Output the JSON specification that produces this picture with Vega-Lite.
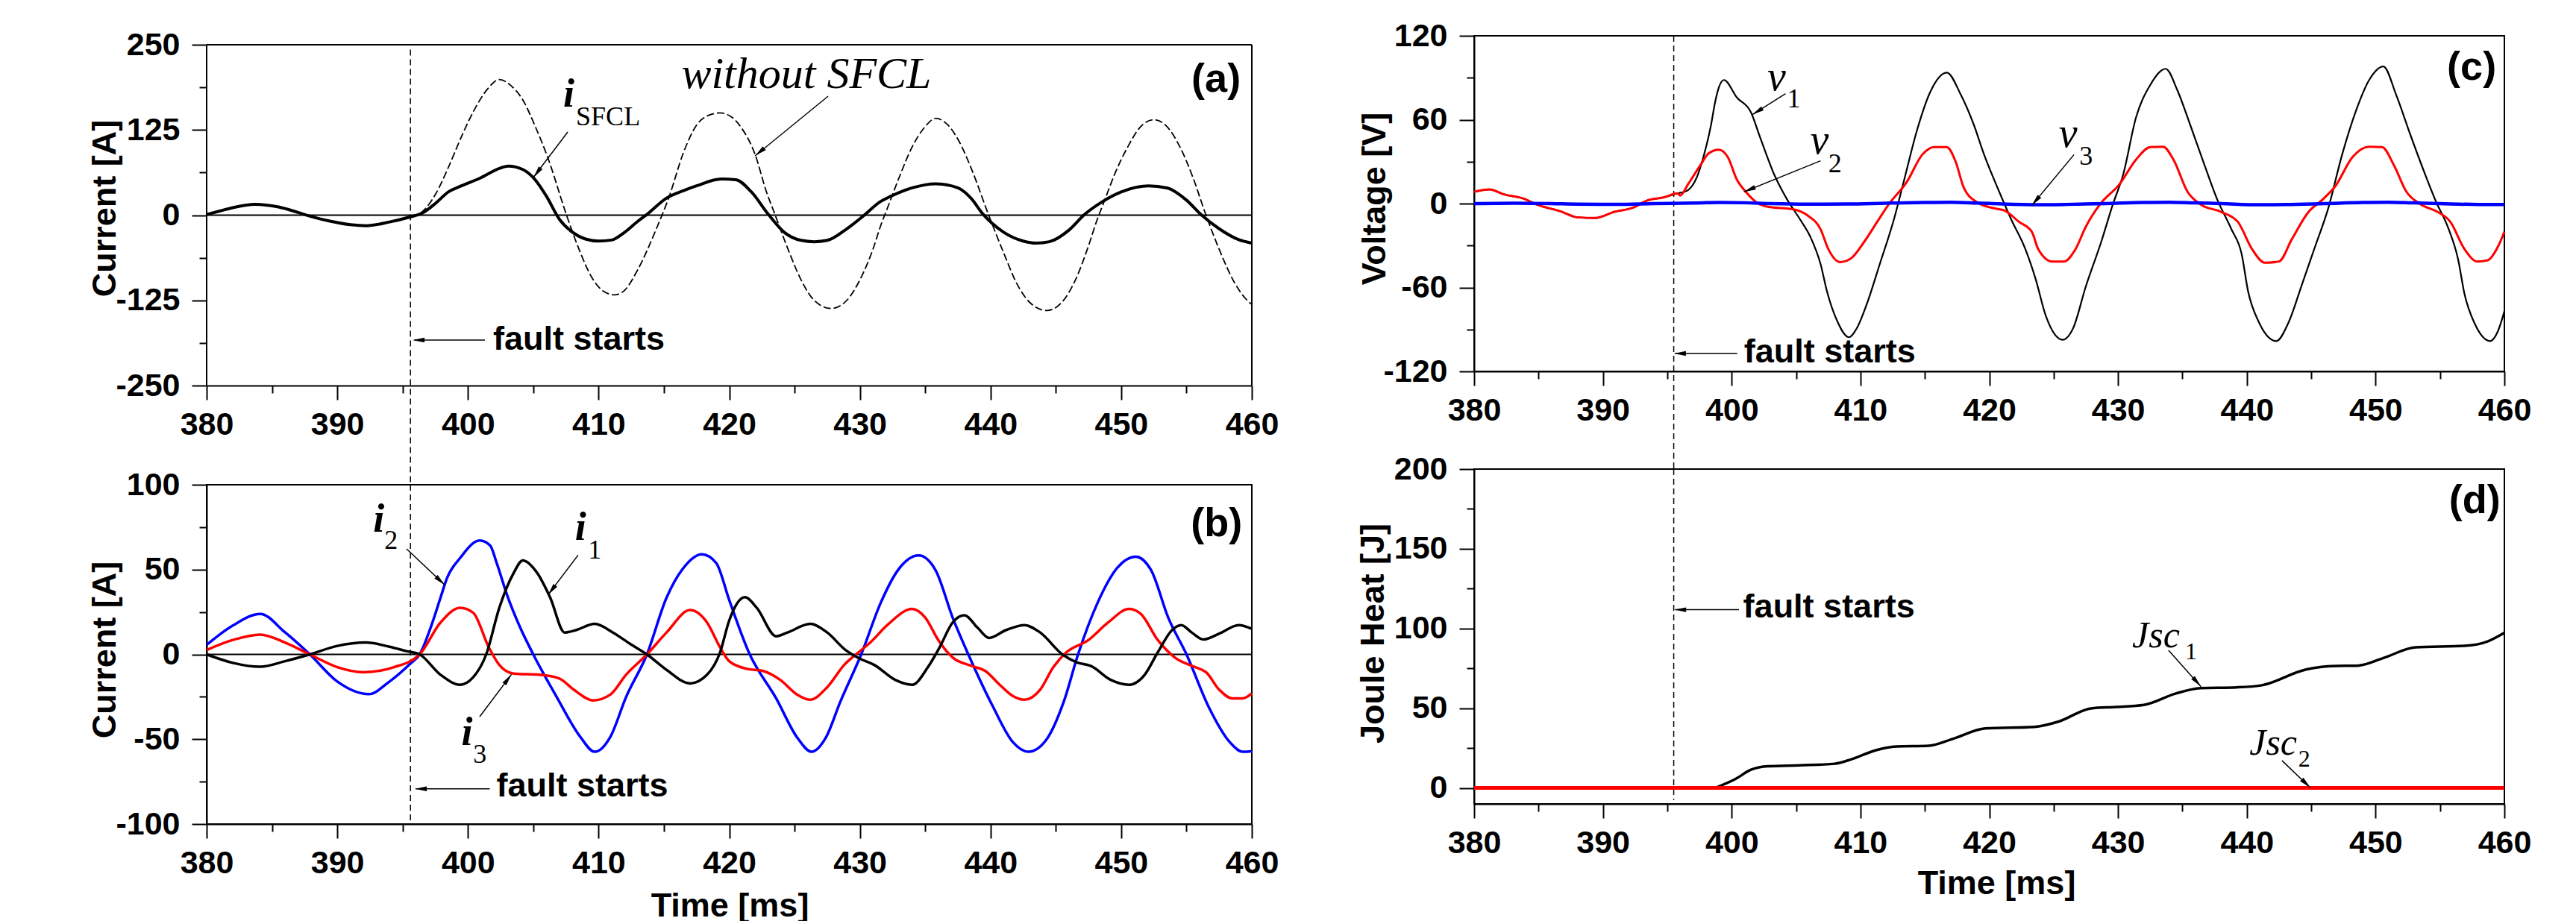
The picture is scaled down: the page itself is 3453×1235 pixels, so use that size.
{
"$schema":"https://vega.github.io/schema/vega-lite/v6.json",
"background":"white",
"padding":{"left":117,"top":26,"right":5,"bottom":0},
"config":{
 "font":"Liberation Sans",
 "view":{"stroke":"black","strokeWidth":2},
 "axis":{"domainColor":"black","domainWidth":2,"tickColor":"black","tickWidth":2,"grid":false,
  "labelFont":"Liberation Sans","labelFontWeight":"bold","labelFontSize":43,"labelColor":"black",
  "titleFont":"Liberation Sans","titleFontWeight":"bold","titleFontSize":45,"titleColor":"black",
  "labelFlush":false,"labelOverlap":false,"labelBound":false}
},
"datasets":{
 "a_sfcl":[{"t":380,"v":1},{"t":381,"v":6},{"t":382,"v":11},{"t":383.7,"v":16},{"t":385.5,"v":12},{"t":387,"v":4},{"t":388,"v":-2},{"t":389.5,"v":-9},{"t":391,"v":-14},{"t":392.2,"v":-15.5},{"t":394,"v":-10},{"t":395.5,"v":-3},{"t":396.5,"v":3},{"t":397.5,"v":17},{"t":398.5,"v":34},{"t":399.5,"v":43},{"t":401,"v":55},{"t":402.2,"v":67},{"t":403.1,"v":72},{"t":404.2,"v":67},{"t":405,"v":55},{"t":406,"v":28},{"t":407,"v":-6},{"t":408,"v":-25},{"t":409,"v":-35},{"t":410,"v":-38},{"t":411,"v":-36.5},{"t":412,"v":-25},{"t":413,"v":-9},{"t":413.7,"v":1},{"t":415.2,"v":25},{"t":416.5,"v":36},{"t":417.5,"v":43},{"t":419.4,"v":53},{"t":420.5,"v":52},{"t":421.7,"v":34},{"t":423,"v":1},{"t":424.2,"v":-25},{"t":425.5,"v":-37},{"t":426.5,"v":-39},{"t":427.5,"v":-37},{"t":429,"v":-20},{"t":430.4,"v":1},{"t":431.5,"v":19},{"t":432.4,"v":28},{"t":434,"v":40},{"t":435.8,"v":46},{"t":437.5,"v":40},{"t":438.5,"v":25},{"t":439.4,"v":2},{"t":441,"v":-25},{"t":442.5,"v":-38},{"t":443.5,"v":-41},{"t":444.5,"v":-39},{"t":446,"v":-22},{"t":447.2,"v":1},{"t":448.5,"v":19},{"t":450,"v":34},{"t":452.1,"v":43},{"t":453.5,"v":40},{"t":455,"v":22},{"t":456.1,"v":1},{"t":457.5,"v":-20},{"t":459,"v":-36},{"t":460,"v":-41}],
 "a_wo":[{"t":380,"v":1},{"t":381,"v":6},{"t":382,"v":11},{"t":383.7,"v":16},{"t":385.5,"v":12},{"t":387,"v":4},{"t":388,"v":-2},{"t":389.5,"v":-9},{"t":391,"v":-14},{"t":392.2,"v":-15.5},{"t":394,"v":-10},{"t":395.5,"v":-3},{"t":396.5,"v":5},{"t":397.5,"v":30},{"t":398.5,"v":70},{"t":399.5,"v":115},{"t":400.5,"v":155},{"t":401.5,"v":185},{"t":402.4,"v":199},{"t":403.3,"v":190},{"t":404.2,"v":169},{"t":405.2,"v":128},{"t":406.1,"v":85},{"t":407.6,"v":-3},{"t":408.5,"v":-50},{"t":409.5,"v":-92},{"t":410.4,"v":-112},{"t":411.2,"v":-117},{"t":412,"v":-110},{"t":413,"v":-80},{"t":414.4,"v":-21},{"t":415.4,"v":27},{"t":416.5,"v":92},{"t":417.5,"v":132},{"t":418.5,"v":147},{"t":419.3,"v":150},{"t":420.1,"v":145},{"t":420.9,"v":129},{"t":422,"v":88},{"t":422.8,"v":37},{"t":423.5,"v":1},{"t":424.5,"v":-50},{"t":425.5,"v":-95},{"t":426.5,"v":-125},{"t":427.8,"v":-137},{"t":429,"v":-125},{"t":430,"v":-95},{"t":431,"v":-50},{"t":431.6,"v":-15},{"t":432.2,"v":15},{"t":433,"v":55},{"t":434,"v":100},{"t":435,"v":130},{"t":435.8,"v":142},{"t":436.7,"v":133},{"t":437.6,"v":108},{"t":438.6,"v":65},{"t":439.8,"v":3},{"t":441,"v":-55},{"t":442,"v":-100},{"t":443,"v":-128},{"t":444.3,"v":-140},{"t":445.5,"v":-127},{"t":446.5,"v":-95},{"t":447.5,"v":-45},{"t":448.1,"v":-10},{"t":448.7,"v":20},{"t":449.5,"v":60},{"t":450.5,"v":100},{"t":451.5,"v":130},{"t":452.5,"v":140},{"t":453.5,"v":130},{"t":454.5,"v":100},{"t":455.5,"v":55},{"t":456.4,"v":5},{"t":457.5,"v":-50},{"t":458.7,"v":-100},{"t":459.5,"v":-122},{"t":460,"v":-131}],
 "b_i2":[{"t":380,"v":5.6},{"t":382,"v":17},{"t":384.1,"v":23.9},{"t":386,"v":13},{"t":387.9,"v":0},{"t":390,"v":-16},{"t":392.4,"v":-23.4},{"t":394,"v":-16},{"t":395.6,"v":-5.4},{"t":396.3,"v":0},{"t":397.2,"v":17},{"t":397.9,"v":33.4},{"t":398.4,"v":45},{"t":399.4,"v":56.8},{"t":400.9,"v":67.1},{"t":401.7,"v":64.2},{"t":402.2,"v":53.9},{"t":403,"v":34.9},{"t":404,"v":15.8},{"t":405,"v":0},{"t":406.8,"v":-25.2},{"t":408.6,"v":-48.6},{"t":409.7,"v":-57.4},{"t":410.9,"v":-48.6},{"t":412.1,"v":-25.2},{"t":413.7,"v":0},{"t":415.2,"v":33.4},{"t":416.5,"v":51},{"t":417.9,"v":59},{"t":419,"v":53.9},{"t":420,"v":32},{"t":421.5,"v":1.2},{"t":423.6,"v":-26},{"t":425.2,"v":-49},{"t":426.3,"v":-57.4},{"t":427.4,"v":-49},{"t":428.5,"v":-28},{"t":430.1,"v":0},{"t":431.6,"v":30.5},{"t":432.9,"v":49.5},{"t":434.5,"v":58.3},{"t":435.8,"v":49.5},{"t":437.1,"v":21.7},{"t":438.3,"v":0},{"t":440.2,"v":-31},{"t":441.7,"v":-51.6},{"t":442.9,"v":-57.4},{"t":444.3,"v":-50},{"t":445.6,"v":-28},{"t":446.7,"v":0},{"t":448.2,"v":30.5},{"t":449.7,"v":51},{"t":451.1,"v":57.6},{"t":452.3,"v":49.5},{"t":453.6,"v":21.7},{"t":455,"v":0},{"t":456.7,"v":-31},{"t":458.3,"v":-51.6},{"t":459.3,"v":-57.4},{"t":460,"v":-57}],
 "b_i3":[{"t":380,"v":2.6},{"t":382,"v":8.5},{"t":384.1,"v":11.7},{"t":386,"v":7},{"t":387.9,"v":0},{"t":390,"v":-7.5},{"t":392,"v":-10.5},{"t":394.3,"v":-7.6},{"t":396.3,"v":0},{"t":397.9,"v":18.8},{"t":399.4,"v":27.5},{"t":400.4,"v":24.6},{"t":401.6,"v":4.1},{"t":402.4,"v":-6.2},{"t":403.5,"v":-11.3},{"t":405.5,"v":-12},{"t":407,"v":-14.2},{"t":408.1,"v":-20.8},{"t":409.6,"v":-27.1},{"t":410.9,"v":-23.7},{"t":412.1,"v":-12},{"t":413.7,"v":0},{"t":415.2,"v":12.9},{"t":417,"v":26.1},{"t":418.3,"v":18.8},{"t":419.3,"v":4.1},{"t":420,"v":-4},{"t":421.3,"v":-8.4},{"t":422.6,"v":-9.8},{"t":423.9,"v":-15},{"t":425.2,"v":-23.7},{"t":426.2,"v":-26.7},{"t":427.5,"v":-19.3},{"t":428.8,"v":-6.2},{"t":429.7,"v":0},{"t":430.8,"v":7},{"t":432.1,"v":17.3},{"t":434,"v":26.8},{"t":435,"v":21.7},{"t":436,"v":8.5},{"t":437.1,"v":-1.8},{"t":438.6,"v":-6.9},{"t":439.6,"v":-9.8},{"t":440.7,"v":-17.9},{"t":441.7,"v":-24.5},{"t":442.6,"v":-26.7},{"t":443.8,"v":-20.8},{"t":444.8,"v":-7.6},{"t":445.8,"v":1.2},{"t":447.5,"v":8.5},{"t":449,"v":18.8},{"t":450.6,"v":26.8},{"t":451.5,"v":23.9},{"t":452.8,"v":8.5},{"t":454.1,"v":-1.8},{"t":455.7,"v":-7.6},{"t":456.5,"v":-10.5},{"t":457.5,"v":-20.8},{"t":458.5,"v":-25.9},{"t":459.3,"v":-25.9},{"t":460,"v":-23}],
 "b_i1":[{"t":380,"v":0},{"t":382,"v":-5},{"t":384.1,"v":-7.3},{"t":386,"v":-4},{"t":387.9,"v":0},{"t":390,"v":5},{"t":392.2,"v":7},{"t":394,"v":4.5},{"t":395.3,"v":1.9},{"t":396.3,"v":0},{"t":397.9,"v":-12},{"t":399.4,"v":-17.9},{"t":400.4,"v":-13.5},{"t":401.4,"v":0},{"t":402.4,"v":27.5},{"t":403.5,"v":48},{"t":404.2,"v":55.4},{"t":405.3,"v":48},{"t":406.3,"v":33.4},{"t":407.4,"v":12.9},{"t":408.3,"v":14.4},{"t":409.7,"v":18},{"t":411.1,"v":12.9},{"t":412.4,"v":6.3},{"t":413.7,"v":0},{"t":415.2,"v":-9.1},{"t":417,"v":-17.1},{"t":418.3,"v":-12},{"t":419.3,"v":1.2},{"t":420,"v":20},{"t":421.2,"v":33.7},{"t":422.1,"v":27.5},{"t":423.6,"v":10.7},{"t":424.5,"v":13},{"t":426.2,"v":18},{"t":427.5,"v":12.9},{"t":428.9,"v":2.6},{"t":430,"v":-2.5},{"t":431.1,"v":-6.2},{"t":432.7,"v":-15},{"t":434,"v":-17.9},{"t":435.2,"v":-7.6},{"t":436.1,"v":4.1},{"t":437.1,"v":18.8},{"t":438,"v":23.1},{"t":439,"v":15.8},{"t":439.9,"v":9.7},{"t":441.2,"v":14.4},{"t":442.6,"v":17.3},{"t":443.8,"v":12.9},{"t":445.5,"v":0},{"t":446.6,"v":-4.7},{"t":447.7,"v":-6.9},{"t":449.2,"v":-15},{"t":450.6,"v":-17.9},{"t":451.8,"v":-12},{"t":452.8,"v":1.2},{"t":453.9,"v":14.4},{"t":454.6,"v":17.3},{"t":455.4,"v":12.9},{"t":456.3,"v":8.8},{"t":457.5,"v":12.2},{"t":459,"v":17.3},{"t":460,"v":15.1}],
 "c_v1":[{"t":380,"v":8.4},{"t":381.2,"v":10.1},{"t":382.3,"v":6.6},{"t":383.9,"v":3.4},{"t":384.8,"v":-0.5},{"t":386.7,"v":-5.5},{"t":388,"v":-9.8},{"t":389.4,"v":-10.3},{"t":390.9,"v":-5.9},{"t":392.4,"v":-2.7},{"t":393.4,"v":2.1},{"t":394.7,"v":4.4},{"t":395.8,"v":7.3},{"t":396.5,"v":9},{"t":397.3,"v":19},{"t":397.8,"v":33.2},{"t":398.4,"v":56.4},{"t":398.7,"v":72},{"t":399,"v":83},{"t":399.4,"v":88.4},{"t":400.4,"v":75.9},{"t":401.5,"v":65.2},{"t":402.2,"v":47.5},{"t":403.3,"v":20.8},{"t":404.3,"v":3},{"t":405.3,"v":-11.2},{"t":406.1,"v":-23.6},{"t":406.9,"v":-43.2},{"t":407.4,"v":-62.8},{"t":408.2,"v":-84.1},{"t":409.1,"v":-95.6},{"t":409.7,"v":-89.4},{"t":410.5,"v":-71.6},{"t":411.5,"v":-43.2},{"t":412.6,"v":-11.2},{"t":413.4,"v":17.2},{"t":414.4,"v":52.8},{"t":415.4,"v":79.5},{"t":416.7,"v":93.7},{"t":417.8,"v":77.7},{"t":418.8,"v":56.4},{"t":419.6,"v":35},{"t":420.7,"v":10.1},{"t":421.7,"v":-11.2},{"t":422.8,"v":-32.5},{"t":423.6,"v":-53.9},{"t":424.4,"v":-80.5},{"t":425.7,"v":-97.4},{"t":426.5,"v":-89.4},{"t":427.5,"v":-59.2},{"t":428.7,"v":-27.2},{"t":429.6,"v":-0.5},{"t":430.4,"v":20.8},{"t":431.4,"v":61.7},{"t":432.5,"v":84.8},{"t":433.7,"v":96.4},{"t":434.6,"v":81.2},{"t":435.6,"v":56.4},{"t":436.7,"v":27.9},{"t":437.7,"v":3},{"t":438.8,"v":-18.3},{"t":439.6,"v":-36.1},{"t":440.1,"v":-62.8},{"t":440.9,"v":-84.1},{"t":442.3,"v":-98.3},{"t":443.2,"v":-85.9},{"t":444.3,"v":-57.4},{"t":445.3,"v":-30.8},{"t":446.3,"v":-4.1},{"t":447.4,"v":35},{"t":448.5,"v":67},{"t":449.5,"v":88.4},{"t":450.6,"v":98.1},{"t":451.6,"v":77.7},{"t":452.7,"v":49.2},{"t":453.7,"v":24.4},{"t":454.7,"v":1.2},{"t":455.6,"v":-16.5},{"t":456.4,"v":-39.6},{"t":456.9,"v":-64.5},{"t":457.7,"v":-85.9},{"t":458.9,"v":-98.3},{"t":459.5,"v":-91.2},{"t":460,"v":-77}],
 "c_v2":[{"t":380,"v":8.4},{"t":381.2,"v":10.1},{"t":382.3,"v":6.6},{"t":383.9,"v":3.4},{"t":384.8,"v":-0.5},{"t":386.7,"v":-5.5},{"t":388,"v":-9.8},{"t":389.4,"v":-10.3},{"t":390.9,"v":-5.9},{"t":392.4,"v":-2.7},{"t":393.4,"v":2.1},{"t":394.7,"v":4.4},{"t":395.8,"v":7.3},{"t":396,"v":5.7},{"t":396.6,"v":13.7},{"t":397.6,"v":27.9},{"t":398.2,"v":35.9},{"t":399,"v":38.6},{"t":399.7,"v":33.2},{"t":400.4,"v":17.2},{"t":401.1,"v":8.4},{"t":402,"v":0.4},{"t":402.8,"v":-2.3},{"t":404.8,"v":-4.1},{"t":405.9,"v":-8.5},{"t":406.9,"v":-18.3},{"t":407.5,"v":-32.5},{"t":408.4,"v":-41.8},{"t":409.2,"v":-39.6},{"t":410.3,"v":-27.2},{"t":411.3,"v":-13},{"t":412.2,"v":-0.5},{"t":413.6,"v":15.5},{"t":414.8,"v":35},{"t":415.7,"v":40.4},{"t":416.7,"v":40.4},{"t":417.4,"v":29.7},{"t":418,"v":11.9},{"t":419,"v":1.2},{"t":420.3,"v":-3.2},{"t":421.2,"v":-5},{"t":422.3,"v":-13},{"t":423.3,"v":-20.1},{"t":423.8,"v":-32.5},{"t":424.9,"v":-41.4},{"t":425.8,"v":-41.4},{"t":426.7,"v":-32.5},{"t":427.5,"v":-16.5},{"t":428.6,"v":-0.5},{"t":430.1,"v":13.7},{"t":431.4,"v":31.5},{"t":432.5,"v":40.4},{"t":433.5,"v":40.7},{"t":434.3,"v":31.5},{"t":435.4,"v":8.4},{"t":436.4,"v":-0.5},{"t":438,"v":-5.9},{"t":439.3,"v":-13},{"t":440.4,"v":-32.5},{"t":441.4,"v":-42.3},{"t":442.5,"v":-41.4},{"t":443.5,"v":-25.4},{"t":444.8,"v":-5.9},{"t":445.9,"v":3},{"t":446.9,"v":12.8},{"t":448.2,"v":33.2},{"t":449.5,"v":40.7},{"t":450.5,"v":40.4},{"t":451.4,"v":27.9},{"t":452.4,"v":8.4},{"t":453.5,"v":-0.5},{"t":454.8,"v":-5.9},{"t":455.8,"v":-13},{"t":456.9,"v":-32.5},{"t":457.9,"v":-41.4},{"t":458.7,"v":-40.5},{"t":459.5,"v":-30.8},{"t":460,"v":-20.1}],
 "c_v3":[{"t":380,"v":0},{"t":383,"v":0.3},{"t":386,"v":0},{"t":388,"v":-0.4},{"t":391,"v":-0.5},{"t":394,"v":0},{"t":397,"v":0.4},{"t":399,"v":0.8},{"t":401,"v":0.6},{"t":403,"v":0},{"t":406,"v":-0.4},{"t":409,"v":-0.3},{"t":412,"v":0.3},{"t":415,"v":0.8},{"t":417,"v":0.9},{"t":419,"v":0.4},{"t":421,"v":-0.3},{"t":424,"v":-0.8},{"t":426,"v":-0.6},{"t":429,"v":0},{"t":432,"v":0.8},{"t":434,"v":1},{"t":436,"v":0.5},{"t":438,"v":0},{"t":441,"v":-0.8},{"t":443,"v":-0.7},{"t":446,"v":0},{"t":449,"v":0.8},{"t":451,"v":1},{"t":453,"v":0.5},{"t":455,"v":0},{"t":458,"v":-0.6},{"t":460,"v":-0.6}],
 "d_j1":[{"t":398.7,"v":0},{"t":400.3,"v":5.7},{"t":401.5,"v":11.4},{"t":402.8,"v":13.6},{"t":405.3,"v":14.2},{"t":408,"v":15.2},{"t":409.3,"v":18},{"t":411.2,"v":23.7},{"t":412.8,"v":26},{"t":415.3,"v":26.5},{"t":417.2,"v":30.9},{"t":419.7,"v":37.3},{"t":423.5,"v":38.3},{"t":425.4,"v":41.7},{"t":427.9,"v":49.9},{"t":429.8,"v":50.8},{"t":432,"v":52.1},{"t":434.5,"v":59.3},{"t":436.4,"v":62.6},{"t":439.2,"v":63.1},{"t":441.1,"v":64.3},{"t":444.6,"v":74.3},{"t":446.5,"v":76.4},{"t":448.7,"v":76.8},{"t":450.6,"v":81.5},{"t":453.1,"v":88.2},{"t":456.9,"v":89.1},{"t":458.7,"v":91.9},{"t":460,"v":97.3}],
 "d_j2":[{"t":380,"v":0},{"t":460,"v":0}]
},
"spacing":102,
"hconcat":[
 {"vconcat":[
  {"width":1401,"height":469,"view":{"stroke":null},
   "encoding":{
    "x":{"field":"t","type":"quantitative","scale":{"domain":[380,460],"nice":false,"zero":false},
     "axis":{"values":[380,385,390,395,400,405,410,415,420,425,430,435,440,445,450,455,460],"labelExpr":"datum.value % 10 === 0 ? '' + datum.value : ''","tickSize":{"condition":{"test":"datum.value % 10 === 0","value":19},"value":10},"labelPadding":12,"title":null}},
    "y":{"field":"v","type":"quantitative","scale":{"domain":[-250,263.13],"nice":false,"zero":false},
     "axis":{"domain":false,"values":[-250,-187.5,-125,-62.5,0,62.5,125,187.5,250],"labelExpr":"datum.value % 125 === 0 ? '' + datum.value : ''","tickSize":{"condition":{"test":"datum.value % 125 === 0","value":20},"value":10},"labelPadding":16,"title":"Current [A]","titleX":-137,"titleY":231,"titleBaseline":"middle","titleAlign":"center","titleAngle":270}}
   },
   "layer":[
    {"data":{"values":[{"t":380,"t2":460,"v":250,"v2":250},{"t":380,"t2":380,"v":-250,"v2":250},{"t":460,"t2":460,"v":-250,"v2":250}]},"mark":{"type":"rule","color":"black","strokeWidth":2},"encoding":{"x2":{"field":"t2"},"y2":{"field":"v2"}}},
    {"data":{"values":[{"t":380,"t2":460,"v":0}]},"mark":{"type":"rule","color":"black","strokeWidth":2},"encoding":{"x2":{"field":"t2"}}},
    {"data":{"values":[{"t":395.6,"v":243,"v2":-395.5}]},"mark":{"type":"rule","color":"black","strokeWidth":1.5,"strokeDash":[8,5]},"encoding":{"y2":{"field":"v2"}}},
    {"data":{"name":"a_wo"},"mark":{"type":"line","color":"black","strokeWidth":1.8,"strokeDash":[10,4],"interpolate":"monotone"}},
    {"data":{"name":"a_sfcl"},"mark":{"type":"line","color":"black","strokeWidth":4,"interpolate":"monotone"}},
    {"data":{"values":[{"t":407.64,"v":122,"t2":405.0,"v2":55.3},{"t":427.57,"v":174.5,"t2":421.98,"v2":87},{"t":401.3,"v":-183.3,"t2":395.9,"v2":-183.3}]},"mark":{"type":"rule","color":"black","strokeWidth":1.5},"encoding":{"x2":{"field":"t2"},"y2":{"field":"v2"}}},
    {"data":{"values":[{"t":405.29,"v":62.3}]},"mark":{"type":"point","shape":"M0,-1L0.4,1L-0.4,1Z","filled":true,"color":"black","opacity":1,"size":256,"angle":217}},
    {"data":{"values":[{"t":422.33,"v":92.6}]},"mark":{"type":"point","shape":"M0,-1L0.4,1L-0.4,1Z","filled":true,"color":"black","opacity":1,"size":256,"angle":231}},
    {"data":{"values":[{"t":396.22,"v":-183.3}]},"mark":{"type":"point","shape":"M0,-1L0.4,1L-0.4,1Z","filled":true,"color":"black","opacity":1,"size":256,"angle":270}},
    {"data":{"values":[{"t":401.93,"v":-198,"txt":"fault starts"}]},"mark":{"type":"text","font":"Liberation Sans","fontWeight":"bold","fontSize":45,"align":"left","baseline":"alphabetic","color":"black"},"encoding":{"text":{"field":"txt"}}},
    {"data":{"values":[{"t":459.15,"v":181.4,"txt":"(a)"}]},"mark":{"type":"text","font":"Liberation Sans","fontWeight":"bold","fontSize":54,"align":"right","baseline":"alphabetic","color":"black"},"encoding":{"text":{"field":"txt"}}},
    {"data":{"values":[{"t":407.3,"v":159.5,"txt":"i"}]},"mark":{"type":"text","font":"Liberation Serif","fontStyle":"italic","fontWeight":"bold","fontSize":54,"align":"left","baseline":"alphabetic","color":"black"},"encoding":{"text":{"field":"txt"}}},
    {"data":{"values":[{"t":408.27,"v":132.2,"txt":"SFCL"}]},"mark":{"type":"text","font":"Liberation Serif","fontSize":36,"align":"left","baseline":"alphabetic","color":"black"},"encoding":{"text":{"field":"txt"}}},
    {"data":{"values":[{"t":416.34,"v":186.9,"txt":"without SFCL"}]},"mark":{"type":"text","font":"Liberation Serif","fontStyle":"italic","fontSize":60,"align":"left","baseline":"alphabetic","color":"black"},"encoding":{"text":{"field":"txt"}}}
   ]
  },
  {"width":1401,"height":455,
   "encoding":{
    "x":{"field":"t","type":"quantitative","scale":{"domain":[380,460],"nice":false,"zero":false},
     "axis":{"values":[380,385,390,395,400,405,410,415,420,425,430,435,440,445,450,455,460],"labelExpr":"datum.value % 10 === 0 ? '' + datum.value : ''","tickSize":{"condition":{"test":"datum.value % 10 === 0","value":19},"value":10},"labelPadding":12,"title":"Time [ms]","titleX":701,"titleY":123,"titleBaseline":"alphabetic","titleAlign":"center","titleAngle":0}},
    "y":{"field":"v","type":"quantitative","scale":{"domain":[-100,100],"nice":false,"zero":false},
     "axis":{"values":[-100,-75,-50,-25,0,25,50,75,100],"labelExpr":"datum.value % 50 === 0 ? '' + datum.value : ''","tickSize":{"condition":{"test":"datum.value % 50 === 0","value":20},"value":10},"labelPadding":16,"title":"Current [A]","titleX":-137,"titleY":221,"titleBaseline":"middle","titleAlign":"center","titleAngle":270}}
   },
   "layer":[
    {"data":{"values":[{"t":380,"t2":460,"v":0}]},"mark":{"type":"rule","color":"black","strokeWidth":2},"encoding":{"x2":{"field":"t2"}}},
    {"data":{"values":[{"t":395.6,"v":100,"v2":-100}]},"mark":{"type":"rule","color":"black","strokeWidth":1.5,"strokeDash":[8,5]},"encoding":{"y2":{"field":"v2"}}},
    {"data":{"name":"b_i2"},"mark":{"type":"line","color":"#0000ff","strokeWidth":3.5,"interpolate":"monotone"}},
    {"data":{"name":"b_i3"},"mark":{"type":"line","color":"#ff0000","strokeWidth":3.5,"interpolate":"monotone"}},
    {"data":{"name":"b_i1"},"mark":{"type":"line","color":"black","strokeWidth":3.5,"interpolate":"monotone"}},
    {"data":{"values":[{"t":395.3,"v":62.2,"t2":398.22,"v2":41},{"t":408.43,"v":58.5,"t2":406.13,"v2":35.1},{"t":400.9,"v":-36.7,"t2":403.33,"v2":-11.8},{"t":401.67,"v":-79.2,"t2":396,"v2":-79.2}]},"mark":{"type":"rule","color":"black","strokeWidth":1.5},"encoding":{"x2":{"field":"t2"},"y2":{"field":"v2"}}},
    {"data":{"values":[{"t":397.89,"v":43.4}]},"mark":{"type":"point","shape":"M0,-1L0.4,1L-0.4,1Z","filled":true,"color":"black","opacity":1,"size":256,"angle":133}},
    {"data":{"values":[{"t":406.41,"v":37.9}]},"mark":{"type":"point","shape":"M0,-1L0.4,1L-0.4,1Z","filled":true,"color":"black","opacity":1,"size":256,"angle":217}},
    {"data":{"values":[{"t":403.06,"v":-14.6}]},"mark":{"type":"point","shape":"M0,-1L0.4,1L-0.4,1Z","filled":true,"color":"black","opacity":1,"size":256,"angle":37}},
    {"data":{"values":[{"t":396.39,"v":-79.2}]},"mark":{"type":"point","shape":"M0,-1L0.4,1L-0.4,1Z","filled":true,"color":"black","opacity":1,"size":256,"angle":270}},
    {"data":{"values":[{"t":402.18,"v":-83.6,"txt":"fault starts"}]},"mark":{"type":"text","font":"Liberation Sans","fontWeight":"bold","fontSize":45,"align":"left","baseline":"alphabetic","color":"black"},"encoding":{"text":{"field":"txt"}}},
    {"data":{"values":[{"t":459.27,"v":69.5,"txt":"(b)"}]},"mark":{"type":"text","font":"Liberation Sans","fontWeight":"bold","fontSize":54,"align":"right","baseline":"alphabetic","color":"black"},"encoding":{"text":{"field":"txt"}}},
    {"data":{"values":[{"t":392.75,"v":72.3,"txt":"i"},{"t":408.2,"v":67.3,"txt":"i"},{"t":399.5,"v":-53.6,"txt":"i"}]},"mark":{"type":"text","font":"Liberation Serif","fontStyle":"italic","fontWeight":"bold","fontSize":54,"align":"left","baseline":"alphabetic","color":"black"},"encoding":{"text":{"field":"txt"}}},
    {"data":{"values":[{"t":393.6,"v":62.2,"txt":"2"},{"t":409.2,"v":56.4,"txt":"1"},{"t":400.4,"v":-63.8,"txt":"3"}]},"mark":{"type":"text","font":"Liberation Serif","fontSize":36,"align":"left","baseline":"alphabetic","color":"black"},"encoding":{"text":{"field":"txt"}}}
   ]
  }
 ],"spacing":133,"bounds":"flush"},
 {"vconcat":[
  {"width":1381,"height":450,
   "encoding":{
    "x":{"field":"t","type":"quantitative","scale":{"domain":[380,460],"nice":false,"zero":false},
     "axis":{"values":[380,385,390,395,400,405,410,415,420,425,430,435,440,445,450,455,460],"labelExpr":"datum.value % 10 === 0 ? '' + datum.value : ''","tickSize":{"condition":{"test":"datum.value % 10 === 0","value":19},"value":10},"labelPadding":12,"title":null}},
    "y":{"field":"v","type":"quantitative","scale":{"domain":[-120,120],"nice":false,"zero":false},
     "axis":{"values":[-120,-90,-60,-30,0,30,60,90,120],"labelExpr":"datum.value % 60 === 0 ? '' + datum.value : ''","tickSize":{"condition":{"test":"datum.value % 60 === 0","value":20},"value":10},"labelPadding":16,"title":"Voltage [V]","titleX":-134,"titleY":218,"titleBaseline":"middle","titleAlign":"center","titleAngle":270}}
   },
   "layer":[
    {"data":{"values":[{"t":395.5,"v":120,"v2":-189.7}]},"mark":{"type":"rule","color":"black","strokeWidth":1.5,"strokeDash":[8,5]},"encoding":{"y2":{"field":"v2"}}},
    {"data":{"name":"c_v1"},"mark":{"type":"line","color":"black","strokeWidth":2.2,"interpolate":"monotone"}},
    {"data":{"name":"c_v2"},"mark":{"type":"line","color":"#ff0000","strokeWidth":3,"interpolate":"monotone"}},
    {"data":{"name":"c_v3"},"mark":{"type":"line","color":"#0000ff","strokeWidth":4.5,"interpolate":"monotone"}},
    {"data":{"values":[{"t":404.18,"v":78.6,"t2":401.59,"v2":63.5},{"t":406.9,"v":30.6,"t2":400.95,"v2":8.4},{"t":426.58,"v":35,"t2":423.3,"v2":-1.4},{"t":400.43,"v":-107.2,"t2":395.6,"v2":-107.2}]},"mark":{"type":"rule","color":"black","strokeWidth":1.5},"encoding":{"x2":{"field":"t2"},"y2":{"field":"v2"}}},
    {"data":{"values":[{"t":401.99,"v":65.8}]},"mark":{"type":"point","shape":"M0,-1L0.4,1L-0.4,1Z","filled":true,"color":"black","opacity":1,"size":256,"angle":238}},
    {"data":{"values":[{"t":401.38,"v":10}]},"mark":{"type":"point","shape":"M0,-1L0.4,1L-0.4,1Z","filled":true,"color":"black","opacity":1,"size":256,"angle":248}},
    {"data":{"values":[{"t":423.6,"v":1.9}]},"mark":{"type":"point","shape":"M0,-1L0.4,1L-0.4,1Z","filled":true,"color":"black","opacity":1,"size":256,"angle":220}},
    {"data":{"values":[{"t":395.98,"v":-107.2}]},"mark":{"type":"point","shape":"M0,-1L0.4,1L-0.4,1Z","filled":true,"color":"black","opacity":1,"size":256,"angle":270}},
    {"data":{"values":[{"t":400.95,"v":-113.4,"txt":"fault starts"}]},"mark":{"type":"text","font":"Liberation Sans","fontWeight":"bold","fontSize":45,"align":"left","baseline":"alphabetic","color":"black"},"encoding":{"text":{"field":"txt"}}},
    {"data":{"values":[{"t":459.37,"v":88.4,"txt":"(c)"}]},"mark":{"type":"text","font":"Liberation Sans","fontWeight":"bold","fontSize":54,"align":"right","baseline":"alphabetic","color":"black"},"encoding":{"text":{"field":"txt"}}},
    {"data":{"values":[{"t":402.76,"v":81.2,"txt":"v"},{"t":406.1,"v":35.9,"txt":"v"},{"t":425.4,"v":40.4,"txt":"v"}]},"mark":{"type":"text","font":"Liberation Serif","fontStyle":"italic","fontSize":56,"align":"left","baseline":"alphabetic","color":"black"},"encoding":{"text":{"field":"txt"}}},
    {"data":{"values":[{"t":404.3,"v":68.8,"txt":"1"},{"t":407.5,"v":22.6,"txt":"2"},{"t":427.0,"v":27.9,"txt":"3"}]},"mark":{"type":"text","font":"Liberation Serif","fontSize":36,"align":"left","baseline":"alphabetic","color":"black"},"encoding":{"text":{"field":"txt"}}}
   ]
  },
  {"width":1381,"height":449,
   "encoding":{
    "x":{"field":"t","type":"quantitative","scale":{"domain":[380,460],"nice":false,"zero":false},
     "axis":{"values":[380,385,390,395,400,405,410,415,420,425,430,435,440,445,450,455,460],"labelExpr":"datum.value % 10 === 0 ? '' + datum.value : ''","tickSize":{"condition":{"test":"datum.value % 10 === 0","value":19},"value":10},"labelPadding":12,"title":"Time [ms]","titleX":700,"titleY":120,"titleBaseline":"alphabetic","titleAlign":"center","titleAngle":0}},
    "y":{"field":"v","type":"quantitative","scale":{"domain":[-10,200],"nice":false,"zero":false},
     "axis":{"values":[0,25,50,75,100,125,150,175,200],"labelExpr":"datum.value % 50 === 0 ? '' + datum.value : ''","tickSize":{"condition":{"test":"datum.value % 50 === 0","value":20},"value":10},"labelPadding":16,"title":"Joule Heat [J]","titleX":-136,"titleY":220,"titleBaseline":"middle","titleAlign":"center","titleAngle":270}}
   },
   "layer":[
    {"data":{"values":[{"t":395.5,"v":200,"v2":-7.5}]},"mark":{"type":"rule","color":"black","strokeWidth":1.5,"strokeDash":[8,5]},"encoding":{"y2":{"field":"v2"}}},
    {"data":{"name":"d_j1"},"mark":{"type":"line","color":"black","strokeWidth":3.5,"interpolate":"monotone"}},
    {"data":{"name":"d_j2"},"mark":{"type":"line","color":"#ff0000","strokeWidth":5}},
    {"data":{"values":[{"t":433.92,"v":86.3,"t2":436.44,"v2":63.6},{"t":442.73,"v":17.2,"t2":444.93,"v2":0.2},{"t":400.57,"v":111.8,"t2":395.6,"v2":111.8}]},"mark":{"type":"rule","color":"black","strokeWidth":1.5},"encoding":{"x2":{"field":"t2"},"y2":{"field":"v2"}}},
    {"data":{"values":[{"t":436.13,"v":66.4}]},"mark":{"type":"point","shape":"M0,-1L0.4,1L-0.4,1Z","filled":true,"color":"black","opacity":1,"size":256,"angle":138}},
    {"data":{"values":[{"t":444.6,"v":2.8}]},"mark":{"type":"point","shape":"M0,-1L0.4,1L-0.4,1Z","filled":true,"color":"black","opacity":1,"size":256,"angle":134}},
    {"data":{"values":[{"t":396.0,"v":111.8}]},"mark":{"type":"point","shape":"M0,-1L0.4,1L-0.4,1Z","filled":true,"color":"black","opacity":1,"size":256,"angle":270}},
    {"data":{"values":[{"t":400.89,"v":107.1,"txt":"fault starts"}]},"mark":{"type":"text","font":"Liberation Sans","fontWeight":"bold","fontSize":45,"align":"left","baseline":"alphabetic","color":"black"},"encoding":{"text":{"field":"txt"}}},
    {"data":{"values":[{"t":459.7,"v":172.4,"txt":"(d)"}]},"mark":{"type":"text","font":"Liberation Sans","fontWeight":"bold","fontSize":54,"align":"right","baseline":"alphabetic","color":"black"},"encoding":{"text":{"field":"txt"}}},
    {"data":{"values":[{"t":431.1,"v":88.2,"txt":"Jsc"},{"t":440.2,"v":20.9,"txt":"Jsc"}]},"mark":{"type":"text","font":"Liberation Serif","fontStyle":"italic","fontSize":50,"align":"left","baseline":"alphabetic","color":"black"},"encoding":{"text":{"field":"txt"}}},
    {"data":{"values":[{"t":435.2,"v":80.6,"txt":"1"},{"t":444.0,"v":13.3,"txt":"2"}]},"mark":{"type":"text","font":"Liberation Serif","fontSize":32,"align":"left","baseline":"alphabetic","color":"black"},"encoding":{"text":{"field":"txt"}}}
   ]
  }
 ],"spacing":131,"bounds":"flush"}
]
}
